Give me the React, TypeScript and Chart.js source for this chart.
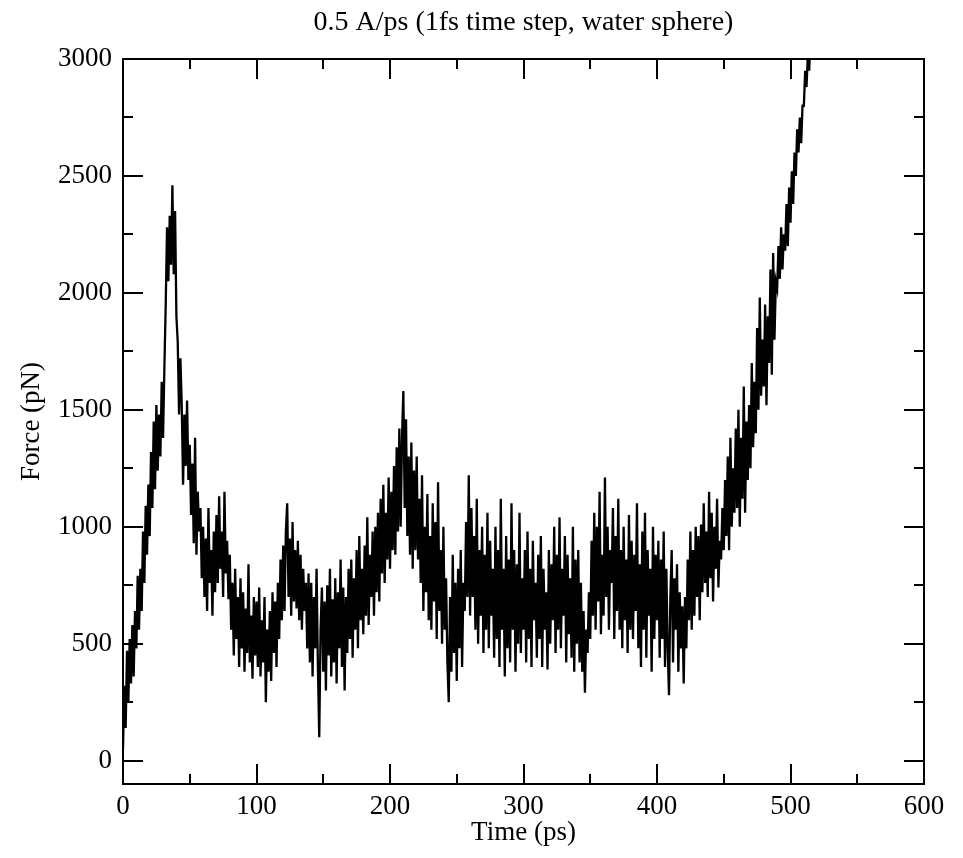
import { useEffect, useRef } from "react";
import { Chart, registerables } from "chart.js";

Chart.register(...registerables);

const TITLE = "0.5 A/ps (1fs time step, water sphere)";
const X_LABEL = "Time (ps)";
const Y_LABEL = "Force (pN)";
const SERIF = "'Liberation Serif', 'Times New Roman', serif";

// pulling force, one sample per picosecond
const SAMPLE_PS = 1;

const force000 = [
  50, 320, 140, 470, 250, 520, 330, 580, 360, 640,
  480, 790, 560, 820, 640, 980, 760, 1090, 880, 1180,
  960, 1320, 1080, 1450, 1160, 1520, 1240, 1480, 1300, 1620,
  1380, 1680, 1950, 2280, 2050, 2330, 2120, 2460, 2080, 2350,
  1900, 1790, 1480, 1720, 1520, 1180, 1480, 1260, 1540, 1200,
  1350, 1050, 1270, 930, 1380, 880, 1150, 980, 1080, 780,
  1000, 700, 950, 640, 1080, 760, 900, 620, 980, 720,
  1050, 760, 1130, 820, 980, 700, 1150, 800, 940, 690,
  880, 560, 760, 450, 820, 520, 700, 400, 780, 480,
  720, 380, 650, 460, 840, 420, 620, 350, 700, 450,
];

const force100 = [
  680, 400, 740, 360, 600, 420, 700, 250, 560, 380,
  640, 340, 720, 460, 680, 400, 760, 520, 860, 600,
  920, 640, 980, 1100, 700, 950, 620, 1020, 680, 900,
  650, 940, 600, 880, 560, 820, 640, 760, 480, 800,
  420, 760, 360, 700, 480, 820, 400, 100, 560, 740,
  380, 680, 300, 750, 450, 820, 360, 690, 420, 780,
  330, 720, 480, 860, 400, 740, 300, 700, 460, 820,
  520, 860, 440, 780, 560, 900, 480, 960, 600, 820,
  540, 920, 620, 1040, 580, 880, 700, 980, 620, 1000,
  720, 1060, 680, 1120, 800, 1180, 760, 1060, 860, 1210,
];

const force200 = [
  820, 1150, 900, 1260, 880, 1340, 980, 1420, 1000, 1380,
  1580, 1080, 1460, 960, 1300, 880, 1360, 820, 1240, 900,
  1300, 860, 1120, 760, 1220, 640, 1000, 720, 1140, 600,
  960, 560, 1100, 680, 1020, 520, 1190, 640, 900, 500,
  1000, 560, 780, 420, 250, 700, 380, 880, 460, 760,
  340, 820, 480, 900, 400, 760, 640, 1020, 700, 1220,
  620, 1080, 700, 960, 560, 1120, 500, 900, 620, 1000,
  460, 880, 560, 1060, 480, 940, 620, 820, 440, 1000,
  520, 900, 400, 1120, 560, 820, 360, 960, 480, 860,
  420, 1100, 560, 900, 380, 840, 500, 1060, 460, 780,
];

const force300 = [
  560, 900, 420, 980, 520, 820, 400, 940, 600, 760,
  440, 880, 520, 960, 400, 820, 560, 720, 390, 900,
  500, 840, 600, 1000, 460, 880, 560, 1040, 480, 820,
  620, 960, 420, 880, 540, 780, 440, 1000, 380, 860,
  500, 900, 420, 760, 380, 640, 290, 560, 460, 720,
  520, 940, 620, 1060, 560, 1000, 680, 1150, 540, 880,
  620, 1210, 700, 1000, 560, 900, 760, 1080, 520, 960,
  640, 1120, 560, 900, 480, 1000, 600, 860, 460, 1050,
  560, 940, 520, 880, 640, 1100, 480, 840, 400, 980,
  560, 1060, 440, 900, 620, 820, 380, 1000, 520, 880,
];

const force400 = [
  600, 940, 440, 860, 520, 980, 400, 820, 480, 280,
  700, 900, 420, 780, 560, 840, 380, 720, 480, 660,
  330, 700, 480, 860, 600, 980, 560, 900, 620, 1000,
  700, 960, 600, 1010, 720, 1100, 760, 980, 700, 1150,
  780, 1060, 680, 1000, 820, 1120, 740, 940, 860, 1080,
  900, 1200, 960, 1300, 900, 1380, 1000, 1250, 1060, 1420,
  1080, 1500, 1000, 1380, 1120, 1600, 1060, 1450, 1200, 1520,
  1250, 1700, 1340, 1620, 1400, 1850, 1500, 1980, 1560, 1800,
  1600, 1950, 1520, 1900, 1700, 2100, 1650, 2170, 1800, 2050,
  2020, 2200, 2060, 2280, 2100, 2250, 2180, 2380, 2200, 2450,
];

const force500 = [
  2300, 2520, 2380, 2600, 2500, 2700, 2600, 2750, 2640, 2800,
  2800, 2950, 2880, 3020, 2950, 3100, 3050, 3200, 3150, 3300,
];

const X_MIN = 0;
const X_MAX = 600;
const Y_MIN = -100;
const Y_MAX = 3000;
const xMajorTicks = [0, 100, 200, 300, 400, 500, 600];
const xMinorTicks = [50, 150, 250, 350, 450, 550];
const yMajorTicks = [0, 500, 1000, 1500, 2000, 2500, 3000];
const yMinorTicks = [250, 750, 1250, 1750, 2250, 2750];

const forceSeries = [
  ...force000,
  ...force100,
  ...force200,
  ...force300,
  ...force400,
  ...force500,
];

// frame with inward ticks on all four sides, plus the title above the plot
const frameAndTicks = {
  id: "frameAndTicks",
  afterDatasetsDraw(chart: any) {
    const { ctx, chartArea, scales } = chart;
    const { left, right, top, bottom } = chartArea;
    const xs = scales.x;
    const ys = scales.y;
    ctx.save();
    ctx.strokeStyle = "#000";
    ctx.lineWidth = 2;
    ctx.strokeRect(left, top, right - left, bottom - top);
    ctx.beginPath();
    const tick = (x1: number, y1: number, x2: number, y2: number) => {
      ctx.moveTo(x1, y1);
      ctx.lineTo(x2, y2);
    };
    const MAJOR = 20;
    const MINOR = 10;
    xMajorTicks.forEach((v) => {
      const px = Math.round(xs.getPixelForValue(v));
      tick(px, bottom, px, bottom - MAJOR);
      tick(px, top, px, top + MAJOR);
    });
    xMinorTicks.forEach((v) => {
      const px = Math.round(xs.getPixelForValue(v));
      tick(px, bottom, px, bottom - MINOR);
      tick(px, top, px, top + MINOR);
    });
    yMajorTicks.forEach((v) => {
      const py = Math.round(ys.getPixelForValue(v));
      tick(left, py, left + MAJOR, py);
      tick(right, py, right - MAJOR, py);
    });
    yMinorTicks.forEach((v) => {
      const py = Math.round(ys.getPixelForValue(v));
      tick(left, py, left + MINOR, py);
      tick(right, py, right - MINOR, py);
    });
    ctx.stroke();

    ctx.fillStyle = "#000";
    ctx.font = `28px ${SERIF}`;
    ctx.textAlign = "center";
    ctx.textBaseline = "middle";
    ctx.fillText(TITLE, (left + right) / 2, 23);
    ctx.restore();
  },
};

const plainNumber = (v: any) => String(v);

export default function App() {
  const canvasRef = useRef<HTMLCanvasElement | null>(null);

  useEffect(() => {
    const canvas = canvasRef.current;
    if (!canvas) return;
    const points = forceSeries.map((f, i) => ({ x: i * SAMPLE_PS, y: f }));
    const chart = new Chart(canvas, {
      type: "line",
      data: {
        datasets: [
          {
            data: points,
            borderColor: "#000",
            borderWidth: 2.3,
            pointRadius: 0,
            tension: 0,
            fill: false,
          },
        ],
      },
      options: {
        responsive: false,
        animation: false,
        events: [],
        layout: { padding: { top: 59, right: 39, left: 0, bottom: 0 } },
        plugins: {
          legend: { display: false },
          tooltip: { enabled: false },
          title: { display: false },
        },
        scales: {
          x: {
            type: "linear",
            position: "bottom",
            min: X_MIN,
            max: X_MAX,
            afterFit: (s: any) => {
              s.height = 74;
            },
            afterBuildTicks: (s: any) => {
              s.ticks = xMajorTicks.map((v) => ({ value: v }));
            },
            grid: { display: false, drawTicks: false },
            border: { display: false },
            ticks: {
              color: "#000",
              font: { family: SERIF, size: 27 },
              padding: 7,
              maxRotation: 0,
              autoSkip: false,
              callback: plainNumber,
            },
            title: {
              display: true,
              text: X_LABEL,
              color: "#000",
              font: { family: SERIF, size: 27 },
              padding: { top: 0, bottom: 9 },
            },
          },
          y: {
            type: "linear",
            position: "left",
            min: Y_MIN,
            max: Y_MAX,
            afterFit: (s: any) => {
              s.width = 123;
            },
            afterBuildTicks: (s: any) => {
              s.ticks = yMajorTicks.map((v) => ({ value: v }));
            },
            grid: { display: false, drawTicks: false },
            border: { display: false },
            ticks: {
              color: "#000",
              font: { family: SERIF, size: 27 },
              padding: 11,
              autoSkip: false,
              callback: plainNumber,
            },
            title: {
              display: true,
              text: Y_LABEL,
              color: "#000",
              font: { family: SERIF, size: 27 },
              padding: { top: 16, bottom: 0 },
            },
          },
        },
      },
      plugins: [frameAndTicks],
    });
    return () => chart.destroy();
  }, []);

  return (
    <div
      style={{
        position: "fixed",
        left: 0,
        top: 0,
        width: 963,
        height: 858,
        background: "#fff",
      }}
    >
      <canvas ref={canvasRef} width={963} height={858} />
    </div>
  );
}
